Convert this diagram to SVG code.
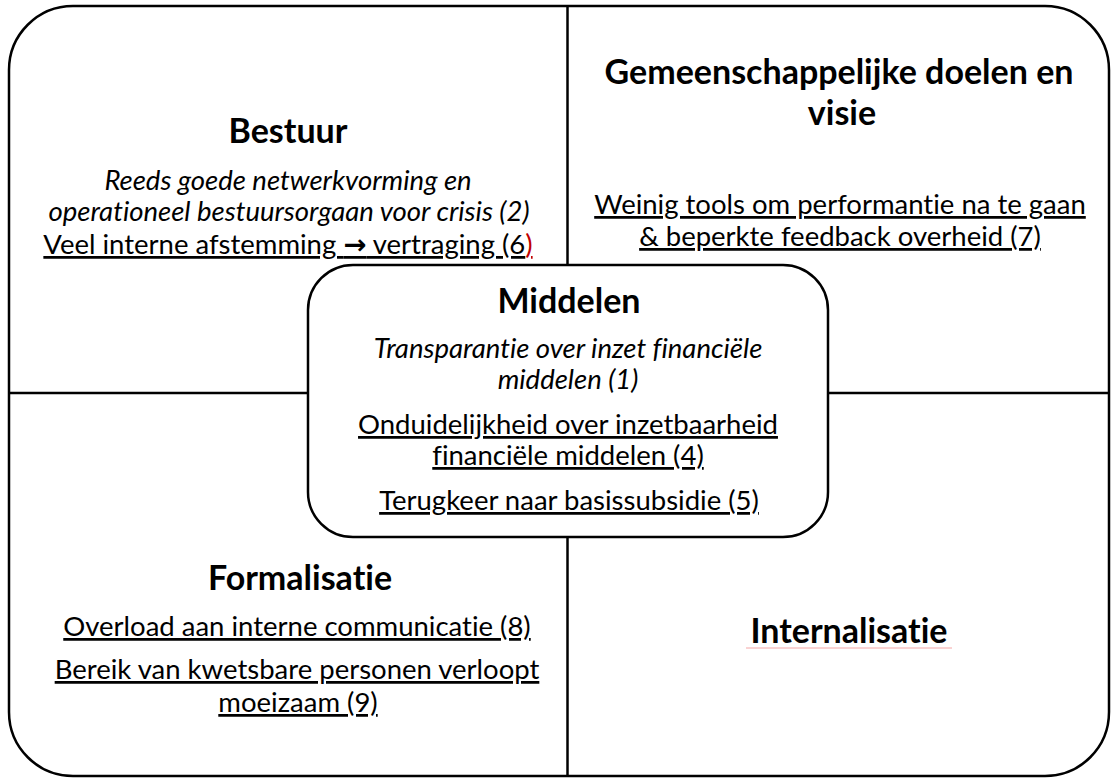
<svg xmlns="http://www.w3.org/2000/svg" width="1118" height="778" viewBox="0 0 1118 778">
  <style>
    .frame { fill: none; stroke: #000; stroke-width: 2.5; }
    .divider { fill: none; stroke: #000; stroke-width: 2.5; }
    .center { fill: #fff; stroke: #000; stroke-width: 2.5; }
    text { font-family: Lato, "Open Sans", "Liberation Sans", sans-serif; fill: #000; text-anchor: middle;
           font-variant-ligatures: none; font-feature-settings: "liga" 0, "clig" 0; }
    .title { font-size: 34px; font-weight: bold; }
    .body { font-size: 27.5px; }
    .it { font-style: italic; }
    .ul { text-decoration: underline; }
    .arrow { font-family: "DejaVu Sans", sans-serif; font-weight: bold; }
  </style>
  <rect width="1118" height="778" fill="#fff"/>

  <!-- outer frame -->
  <g id="frame">
    <rect class="frame" x="9" y="6" width="1100" height="770" rx="64" ry="64"/>
  </g>

  <!-- quadrant dividers -->
  <g id="connectors">
    <line class="divider" x1="567.5" y1="6" x2="567.5" y2="265"/>
    <line class="divider" x1="567.5" y1="537" x2="567.5" y2="776"/>
    <line class="divider" x1="9" y1="393" x2="308" y2="393"/>
    <line class="divider" x1="828" y1="393" x2="1109" y2="393"/>
  </g>

  <g id="bestuur">
    <text class="title" x="288" y="143">Bestuur</text>
    <text class="body it" x="288" y="190">Reeds goede netwerkvorming en</text>
    <text class="body it" x="289" y="221">operationeel bestuursorgaan voor crisis (2)</text>
    <text class="body" x="288" y="254"><tspan class="ul">Veel interne afstemming </tspan><tspan class="ul arrow">→</tspan><tspan class="ul"> vertraging (6</tspan><tspan class="ul" fill="#c00000">)</tspan></text>
  </g>

  <g id="doelen">
    <text class="title" x="839" y="84">Gemeenschappelijke doelen en</text>
    <text class="title" x="842" y="125">visie</text>
    <text class="body ul" x="840" y="214">Weinig tools om performantie na te gaan</text>
    <text class="body ul" x="840" y="246">&amp; beperkte feedback overheid (7)</text>
  </g>

  <g id="formalisatie">
    <text class="title" x="300" y="590">Formalisatie</text>
    <text class="body ul" x="297" y="636">Overload aan interne communicatie (8)</text>
    <text class="body ul" x="297" y="679">Bereik van kwetsbare personen verloopt</text>
    <text class="body ul" x="298" y="712">moeizaam (9)</text>
  </g>

  <g id="internalisatie">
    <text class="title" x="849" y="643">Internalisatie</text>
    <line x1="746" y1="648" x2="952" y2="648" stroke="#f4a6a6" stroke-width="1"/>
  </g>

  <g id="middelen">
    <rect class="center" x="308" y="265" width="520" height="272" rx="45" ry="45"/>
    <text class="title" x="569" y="313">Middelen</text>
    <text class="body it" x="568" y="358">Transparantie over inzet financiële</text>
    <text class="body it" x="568" y="389">middelen (1)</text>
    <text class="body ul" x="568" y="434">Onduidelijkheid over inzetbaarheid</text>
    <text class="body ul" x="568" y="465">financiële middelen (4)</text>
    <text class="body ul" x="569" y="510">Terugkeer naar basissubsidie (5)</text>
  </g>
</svg>
